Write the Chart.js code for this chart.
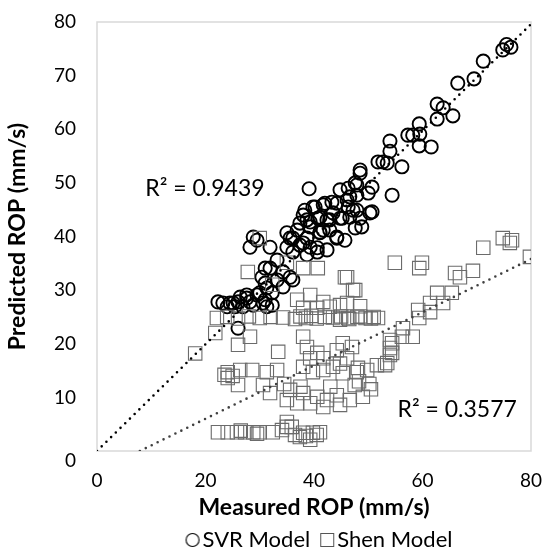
<!DOCTYPE html>
<html><head><meta charset="utf-8">
<script src="https://cdn.jsdelivr.net/npm/chart.js@4/dist/chart.umd.min.js"></script>
<style>html,body{margin:0;padding:0;background:#fff}</style>
</head><body>
<canvas id="c" width="542" height="551" style="width:542px;height:551px;display:block"></canvas>
<script>
// ---- data ----
const seriesNames = ['SVR Model', 'Shen Model'];
const svrX = [76.3,74.8,75.5,71.2,69.5,66.5,62.7,63.8,65.6,62.7,59.4,58.2,57.3,59.5,59.4,61.6,54.0,54.0,51.8,52.7,53.5,56.2,48.5,
  39.1,48.5,47.6,46.3,44.8,47.9,43.3,42.0,40.2,38.3,38.0,46.1,45.2,43.5,42.4,40.7,39.3,41.1,42.9,44.2,45.7,47.6,47.2,48.5,37.4,35.0,36.1,38.7,28.8,28.2,
  50.7,50.0,54.4,46.6,47.9,39.8,41.7,44.2,46.3,47.9,50.7,38.7,41.1,42.9,44.8,46.6,48.8,50.3,36.9,39.3,41.7,44.2,41.1,38.0,35.6,35.0,36.1,38.7,40.6,42.4,
  33.2,31.9,31.0,34.3,35.6,33.2,34.3,31.3,29.5,27.6,26.4,25.1,23.2,22.3,28.8,30.6,32.3,26.9,29.5,31.9,
  37.4,39.3,40.6,30.4,31.0,36.1,32.3,30.0,27.6,24.5,26.0,28.2,31.3,25.4,24.0,31.0,26.0];
const svrY = [75.3,74.8,75.8,72.7,69.4,68.6,64.7,64.0,62.5,61.9,61.0,58.9,58.9,59.1,56.9,56.7,57.8,55.9,53.9,53.9,53.7,53.0,52.4,
  48.9,51.8,50.0,49.0,48.7,47.7,46.4,46.2,45.5,44.9,44.0,46.8,43.4,44.4,43.1,43.4,42.7,40.8,41.2,39.7,39.3,41.6,44.9,43.4,42.5,40.7,39.7,39.7,39.9,38.0,
  49.2,48.1,47.7,47.4,49.6,45.5,45.9,46.2,45.5,44.9,44.6,43.1,43.6,43.1,43.4,43.6,41.8,44.4,41.2,41.8,41.2,39.9,40.7,38.8,39.7,38.0,37.1,36.6,37.9,37.5,
  35.6,34.1,34.1,33.4,32.4,31.9,30.6,30.4,29.1,28.5,28.7,27.6,27.6,27.8,27.2,27.6,27.2,26.9,39.3,38.0,
  38.4,38.0,37.1,32.4,31.3,31.9,29.5,29.5,29.1,27.6,27.8,27.8,26.9,26.9,26.9,28.2,22.9];
const shenX = [71.2,76.1,74.8,76.5,79.8,54.9,59.9,59.4,66.0,69.3,66.9,65.4,62.7,63.8,61.4,59.2,61.4,59.4,56.4,56.2,58.2,54.0,54.0,54.0,53.1,51.6,47.2,46.1,
  22.1,24.0,26.0,28.0,30.0,32.0,34.3,36.5,37.5,38.5,39.5,40.5,42.0,43.5,45.0,46.5,48.0,49.5,51.0,44.8,46.3,48.5,50.5,
  30.0,27.8,35.0,38.0,40.7,45.7,47.6,32.3,36.9,39.3,41.7,44.8,38.0,40.6,42.9,21.8,18.1,26.0,28.2,38.0,33.4,38.7,39.3,40.6,41.7,44.2,45.3,47.0,46.1,48.1,54.4,54.4,53.5,
  46.1,48.5,51.8,44.8,48.3,50.2,
  24.1,26.4,28.6,31.3,33.2,24.1,26.0,30.6,38.0,39.8,41.7,43.5,45.3,47.9,49.8,23.5,25.0,
  31.9,35.6,38.0,40.6,42.4,44.2,46.6,49.0,36.9,39.3,41.7,44.8,34.5,37.5,43.0,47.5,50.5,35.0,
  22.3,24.1,25.8,27.3,28.8,30.0,32.4,35.0,34.1,38.0,39.8,41.1,37.4,39.3,35.9,35.0,26.5,29.5,36.5,38.5,40.5];
const shenY = [37.9,38.8,39.7,39.3,36.2,35.1,35.1,34.1,33.2,33.6,32.4,29.5,29.5,27.6,27.6,26.3,25.9,24.8,22.9,21.3,21.3,20.7,19.2,17.9,16.0,16.0,30.0,32.4,
  24.8,25.0,24.7,25.1,24.8,25.0,24.9,24.6,25.1,24.8,25.2,24.7,25.0,24.9,25.1,24.6,25.0,24.8,25.0,24.5,24.8,25.1,24.7,
  39.7,33.4,35.1,34.1,34.1,32.4,30.0,31.0,28.2,29.1,27.8,27.2,26.7,26.7,26.9,22.0,18.2,19.8,21.3,21.3,18.5,19.4,17.3,18.3,17.3,18.8,20.1,19.4,17.3,15.5,20.1,18.3,16.4,
  27.6,27.0,24.8,16.3,13.0,12.5,
  14.7,15.1,15.1,14.7,15.1,13.6,12.3,12.3,15.7,14.7,15.1,15.7,14.5,14.7,15.1,14.2,14.0,
  10.8,11.4,10.8,10.1,9.5,10.4,9.5,10.1,8.9,8.9,8.2,8.6,12.5,12.0,12.0,12.3,11.5,9.5,
  3.5,3.5,3.5,3.5,3.5,3.5,3.5,4.5,3.9,3.4,3.4,3.5,2.6,2.1,4.5,5.4,3.8,3.2,3.0,2.8,3.0];
const svrTrendX = [0, 80];
const svrTrendY = [0, 79.6];
const shenTrendX = [7.9, 80];
const shenTrendY = [0, 35.8];
const r2Texts = ['R\u00B2 = 0.9439', 'R\u00B2 = 0.3577'];
const r2AtX = [19.9, 66.4];
const r2AtY = [49.0, 7.8];
const axisTickValues = [0, 10, 20, 30, 40, 50, 60, 70, 80];
const xTickValues = [0, 20, 40, 60, 80];
const xTitle = 'Measured ROP (mm/s)';
const yTitle = 'Predicted ROP (mm/s)';

const FONT = 'Lato, "Noto Sans", sans-serif';
const toPts = (xs, ys) => xs.map((x, i) => ({x, y: ys[i]}));

// legend icons: shape drawn towards the right of a wider canvas so it sits close to its text
function icon(kind) {
  const c = document.createElement('canvas');
  c.width = 40; c.height = 16;
  const g = c.getContext('2d');
  if (kind === 'circle') {
    g.strokeStyle = '#000'; g.lineWidth = 1.1;
    g.beginPath(); g.arc(29, 8, 6.5, 0, Math.PI * 2); g.stroke();
  } else {
    g.strokeStyle = '#555'; g.lineWidth = 1;
    g.strokeRect(22.5, 1.5, 13, 13);
  }
  return c;
}
const legendIcons = [icon('circle'), icon('rect')];

const noScalePadding = s => { s.paddingTop = 0; s.paddingBottom = 0; s.paddingLeft = 0; s.paddingRight = 0; };

const framePlugin = {
  id: 'frame',
  beforeDatasetsDraw(chart) {
    const {ctx, chartArea: a} = chart;
    ctx.save();
    ctx.strokeStyle = '#d9d9d9'; ctx.lineWidth = 1.5;
    ctx.strokeRect(a.left, a.top, a.right - a.left, a.bottom - a.top);
    ctx.restore();
  },
  afterDatasetsDraw(chart) {
    const {ctx, scales: {x, y}} = chart;
    ctx.save();
    ctx.fillStyle = '#000';
    ctx.font = '23px ' + FONT;
    ctx.textAlign = 'center'; ctx.textBaseline = 'middle';
    r2Texts.forEach((t, i) => ctx.fillText(t, x.getPixelForValue(r2AtX[i]), y.getPixelForValue(r2AtY[i])));
    // zero label of the y axis sits a little below the axis, as in the reference
    ctx.font = '19px ' + FONT;
    ctx.textAlign = 'right';
    ctx.fillText(String(axisTickValues[0]), y.right - 21, y.getPixelForValue(axisTickValues[0]) + 10);
    ctx.restore();
  }
};

new Chart(document.getElementById('c'), {
  type: 'scatter',
  data: {
    datasets: [
      {label: seriesNames[0], data: toPts(svrX, svrY), pointStyle: 'circle', pointRadius: 6.6,
        borderColor: '#000', backgroundColor: 'rgba(0,0,0,0)', pointBorderWidth: 1.9, order: 2},
      {label: seriesNames[1], data: toPts(shenX, shenY), pointStyle: 'rect', pointRadius: 9.5,
        borderColor: '#6b6b6b', backgroundColor: 'rgba(0,0,0,0)', pointBorderWidth: 1.1, order: 1},
      {label: 'svrTrend', type: 'line', data: toPts(svrTrendX, svrTrendY), showLine: true, pointRadius: 0,
        borderColor: '#000', borderWidth: 2.6, borderDash: [0, 6.6], borderCapStyle: 'round', fill: false, order: 0},
      {label: 'shenTrend', type: 'line', data: toPts(shenTrendX, shenTrendY), showLine: true, pointRadius: 0,
        borderColor: '#404040', borderWidth: 2.6, borderDash: [0, 6.6], borderCapStyle: 'round', fill: false, order: 0}
    ]
  },
  options: {
    responsive: false,
    devicePixelRatio: 1,
    animation: false,
    events: [],
    layout: {autoPadding: false, padding: {left: 0, right: 11, top: 22, bottom: -10}},
    scales: {
      x: {
        type: 'linear', min: 0, max: 80,
        afterBuildTicks: s => { s.ticks = xTickValues.map(v => ({value: v})); },
        afterFit: s => { s.height = 78; noScalePadding(s); },
        grid: {display: false, drawTicks: false},
        border: {display: false},
        ticks: {color: '#000', font: {family: FONT, size: 19}, padding: 18, maxRotation: 0},
        title: {display: true, text: xTitle, color: '#000', font: {family: FONT, size: 23, weight: 'bold'}, padding: {top: 0, bottom: 8}}
      },
      y: {
        type: 'linear', min: 0, max: 80,
        afterBuildTicks: s => { s.ticks = axisTickValues.map(v => ({value: v})); },
        afterFit: s => { s.width = 97; noScalePadding(s); },
        grid: {display: false, drawTicks: false},
        border: {display: false},
        ticks: {color: '#000', font: {family: FONT, size: 19}, padding: 21,
          callback: v => (v === axisTickValues[0] ? '' : String(v))},
        title: {display: true, text: yTitle, color: '#000', font: {family: FONT, size: 23, weight: 'bold'}, padding: {top: 4, bottom: 0}}
      }
    },
    plugins: {
      tooltip: {enabled: false},
      legend: {
        position: 'bottom',
        fullSize: false,
        labels: {
          color: '#000', font: {family: FONT, size: 22},
          usePointStyle: true, boxWidth: 16, boxHeight: 10, padding: 0,
          filter: item => item.datasetIndex < 2,
          sort: (a, b) => a.datasetIndex - b.datasetIndex,
          generateLabels: chart => Chart.defaults.plugins.legend.labels.generateLabels(chart)
            .map(l => Object.assign(l, {pointStyle: legendIcons[l.datasetIndex] || l.pointStyle}))
        }
      }
    }
  },
  plugins: [framePlugin]
});
</script>
</body></html>
